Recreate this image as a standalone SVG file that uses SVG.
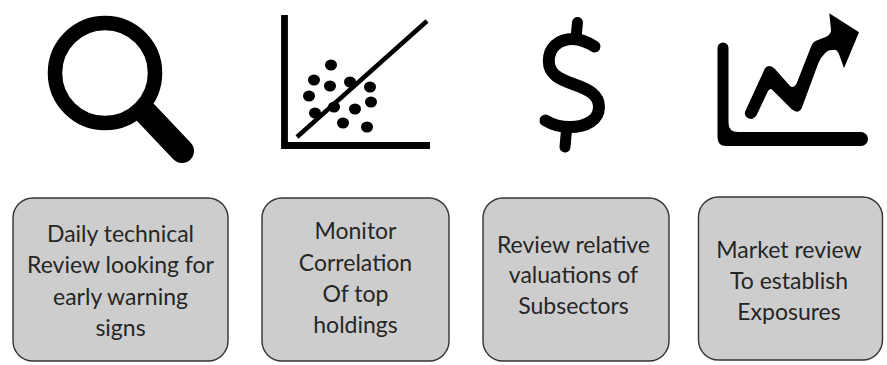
<svg xmlns="http://www.w3.org/2000/svg" width="887" height="365" viewBox="0 0 887 365">
<style>
.box{fill:#cdcdcd;stroke:#333;stroke-width:1.4}
text{font-family:"Lato","Carlito","Open Sans",sans-serif;font-size:23px;fill:#262626;text-anchor:middle}
.k{fill:none;stroke:#000;stroke-linecap:round;stroke-linejoin:round}
</style>
<rect width="887" height="365" fill="#fff"/>
<g id="icon-magnifier">
<circle cx="105" cy="73" r="50" fill="none" stroke="#000" stroke-width="14.5"/>
<path d="M146 113L182 151" class="k" stroke-width="24"/>
</g>
<g id="icon-scatter">
<path d="M284.500 15V145.500H430" fill="none" stroke="#000" stroke-width="6.800"/>
<path d="M297 137L427 21" fill="none" stroke="#000" stroke-width="4.500"/>
<g fill="#000">
<ellipse cx="331" cy="65" rx="6" ry="5.500"/><ellipse cx="314" cy="80" rx="6" ry="5.500"/><ellipse cx="330" cy="86" rx="6" ry="5.500"/><ellipse cx="350" cy="82" rx="6" ry="5.500"/><ellipse cx="370" cy="87" rx="6" ry="5.500"/><ellipse cx="309" cy="96" rx="6" ry="5.500"/><ellipse cx="371" cy="102" rx="6" ry="5.500"/><ellipse cx="334" cy="107" rx="6" ry="5.500"/><ellipse cx="355" cy="109" rx="6" ry="5.500"/><ellipse cx="315" cy="113" rx="6" ry="5.500"/><ellipse cx="343" cy="123" rx="6" ry="5.500"/><ellipse cx="367" cy="127" rx="6" ry="5.500"/>
</g>
</g>
<g id="icon-dollar">
<path d="M594.500 46.500C588 42.500 581 39 573 39C558 39 548.800 48 548.800 61C548.800 74 559 79 573 84C589 89.500 599 95 599 107C599 120 586 127 570 127C560 127 552 124.500 545.500 120.500" class="k" stroke-width="12"/>
<path d="M577.500 22.500L576 38M566.500 130L565 147" class="k" stroke-width="11"/>
</g>
<g id="icon-chart">
<path d="M717.500 48a5.500 5.500 0 0 1 11 0V122Q728.300 132 738 132H861a7 7 0 0 1 0 14H726Q717.500 146 717.500 137Z" fill="#000"/>
<path d="M745 111.700L765 68.300Q769.300 63.500 775 69L790 86Q793.300 89 796.700 83.300L811.700 45Q813.500 41.500 816 40.700L825 37.300Q831 35 831 30L829.300 13.300L859 32.300L844 68.300L839.300 55Q837 49 833.300 50Q828 49.500 825 53.300Q821 57 818.300 63.300L801.700 108.300Q798 114.500 791.700 109.300L771.700 89.300Q770 88.500 768 91L756.700 115Q753 120 750 118.700Q744 117 745 111.700Z" fill="#000"/>
</g>
<g id="node-technical">
<rect class="box" x="13" y="198" width="215" height="163" rx="20"/>
<text x="120.500" y="242">Daily technical</text><text x="120.500" y="273">Review looking for</text><text x="120.500" y="305">early warning</text><text x="120.500" y="336">signs</text>
</g>
<g id="node-correlation">
<rect class="box" x="262" y="198" width="187" height="163" rx="20"/>
<text x="355.500" y="239">Monitor</text><text x="355.500" y="271">Correlation</text><text x="355.500" y="302">Of top</text><text x="355.500" y="333">holdings</text>
</g>
<g id="node-valuations">
<rect class="box" x="483" y="198" width="186" height="163" rx="20"/>
<text x="573.500" y="253">Review relative</text><text x="573.500" y="283">valuations of</text><text x="573.500" y="314">Subsectors</text>
</g>
<g id="node-market">
<rect class="box" x="698.500" y="197" width="184" height="163" rx="20"/>
<text x="789" y="258">Market review</text><text x="789" y="289">To establish</text><text x="789" y="320">Exposures</text>
</g>
</svg>
